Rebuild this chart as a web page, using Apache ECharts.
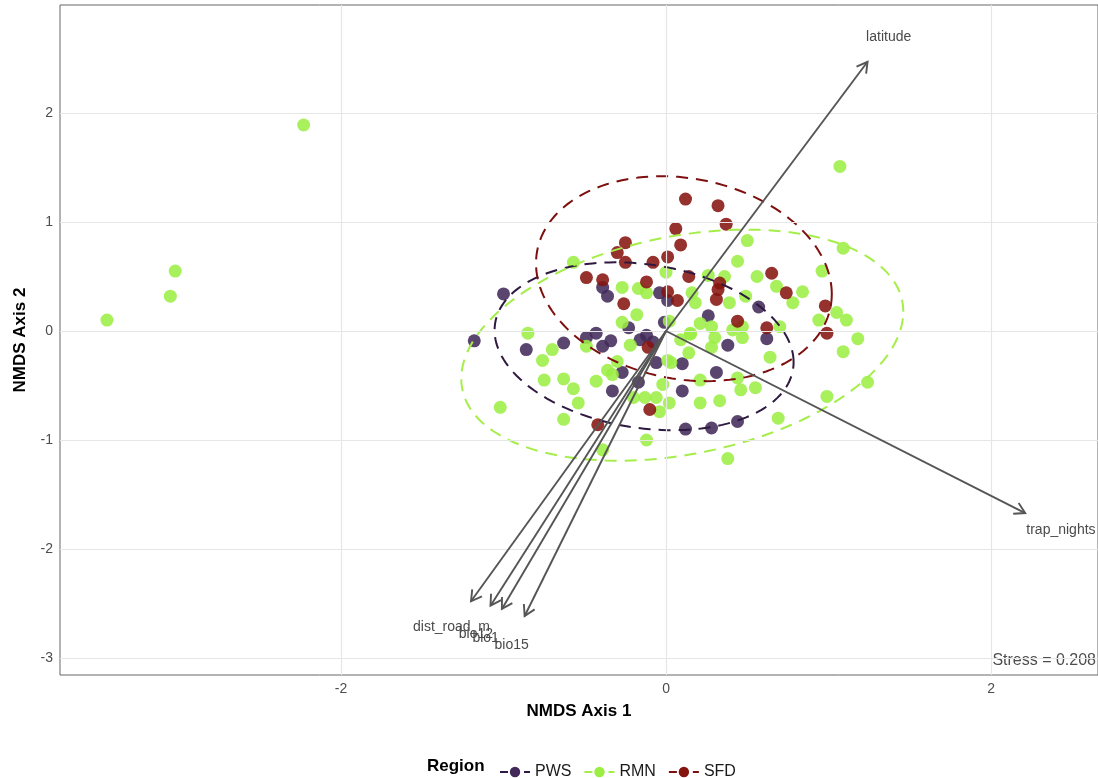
<!DOCTYPE html>
<html><head><meta charset="utf-8">
<script src="https://cdn.jsdelivr.net/npm/echarts@6/dist/echarts.min.js"></script>
<style>html,body{margin:0;padding:0;background:#fff}#c{width:1098px;height:778px}</style>
</head><body><div id="c"></div>
<script>
const FONT = '"Liberation Sans", Arial, sans-serif';
const regions = ['PWS', 'RMN', 'SFD'];

const pwsPoints = [[-1.00,0.34],[-1.18,-0.09],[-0.86,-0.17],[-0.63,-0.11],[-0.49,-0.06],[-0.43,-0.02],[-0.39,-0.14],[-0.34,-0.09],[-0.23,0.03],[-0.16,-0.08],[-0.12,-0.04],[-0.01,0.08],[-0.39,0.40],[-0.36,0.32],[-0.04,0.35],[0.01,0.28],[-0.27,-0.38],[-0.33,-0.55],[-0.17,-0.47],[-0.06,-0.29],[0.10,-0.30],[0.10,-0.55],[0.12,-0.90],[0.28,-0.89],[0.44,-0.83],[0.31,-0.38],[0.38,-0.13],[0.62,-0.07],[0.57,0.22],[0.26,0.14],[-0.08,-0.10]];

const rmnPoints = [[-2.23,1.89],[-3.02,0.55],[-3.05,0.32],[-3.44,0.10],[1.07,1.51],
[1.09,0.76],[0.96,0.55],[0.84,0.36],[1.05,0.17],[0.94,0.10],[1.11,0.10],[1.18,-0.07],[1.09,-0.19],[1.24,-0.47],[0.99,-0.60],
[0.78,0.26],[0.70,0.04],[0.68,0.41],[0.56,0.50],[0.50,0.83],[0.44,0.64],[0.49,0.32],[0.39,0.26],[0.18,0.26],[0.16,0.35],[0.26,0.51],[0.36,0.50],
[0.21,0.07],[0.28,0.04],[0.41,0.01],[0.47,0.04],[0.47,-0.06],[0.30,-0.06],[0.15,-0.02],[0.09,-0.08],[0.02,0.09],[0.28,-0.15],[0.14,-0.20],[0.64,-0.24],
[0.21,-0.45],[0.44,-0.43],[0.46,-0.54],[0.55,-0.52],[0.33,-0.64],[0.21,-0.66],[0.02,-0.66],[-0.06,-0.61],[-0.13,-0.61],[-0.20,-0.61],[-0.04,-0.74],[-0.02,-0.49],[0.01,-0.27],[0.03,-0.29],[0.15,-0.03],
[0.69,-0.80],[0.38,-1.17],[-0.12,-1.00],[-0.39,-1.09],[-0.63,-0.81],[-0.54,-0.66],[-1.02,-0.70],[-0.57,-0.53],[-0.63,-0.44],[-0.75,-0.45],[-0.43,-0.46],[-0.36,-0.36],[-0.33,-0.40],[-0.30,-0.28],[-0.76,-0.27],[-0.70,-0.17],[-0.85,-0.02],[-0.49,-0.14],[-0.22,-0.13],[-0.27,0.08],[-0.18,0.15],[-0.27,0.40],[-0.17,0.39],[-0.12,0.35],[0.00,0.54],[-0.57,0.63]];

const sfdPoints = [[0.12,1.21],[0.32,1.15],[0.37,0.98],[0.06,0.94],[0.09,0.79],[0.01,0.68],[-0.08,0.63],[-0.25,0.81],[-0.30,0.72],[-0.25,0.63],[-0.49,0.49],[-0.39,0.47],[-0.12,0.45],[-0.26,0.25],[0.14,0.50],[0.01,0.36],[0.07,0.28],[0.33,0.44],[0.32,0.38],[0.31,0.29],[0.44,0.09],[0.62,0.03],[0.65,0.53],[0.74,0.35],[0.98,0.23],[0.99,-0.02],[-0.11,-0.15],[-0.10,-0.72],[-0.42,-0.86]];

// ellipse: [centerX, centerY, halfRangeX, halfRangeY, correlation]
const pwsEllipse = [-0.135, -0.14, 0.92, 0.77, -0.19];
const rmnEllipse = [0.10, -0.13, 1.36, 1.06, 0.29];
const sfdEllipse = [0.11, 0.48, 0.91, 0.94, -0.15];

const vectorNames = ['latitude', 'trap_nights', 'dist_road_m', 'bio12', 'bio1', 'bio15'];
const vectorEnds = [[1.24,2.47],[2.21,-1.67],[-1.20,-2.48],[-1.08,-2.52],[-1.01,-2.55],[-0.87,-2.615]];
const vectorLabelPos = [[1.37,2.70],[2.43,-1.83],[-1.32,-2.72],[-1.17,-2.78],[-1.11,-2.82],[-0.95,-2.88]];

const xTicks = [-2, 0, 2];
const yTicks = [-3, -2, -1, 0, 1, 2];
const stressLabel = 'Stress = 0.208';

const pointColors = ['#42295a', '#9bee44', '#85140e'];
const ellipseColors = ['#2e1a40', '#a5ee4a', '#7d0f0f'];
const ellipses = [pwsEllipse, rmnEllipse, sfdEllipse];
const pointSets = [pwsPoints, rmnPoints, sfdPoints];

const chart = echarts.init(document.getElementById('c'), null, {renderer: 'canvas'});

function renderEllipse(params, api) {
  const p = ellipses[params.dataIndex];
  const pts = [];
  const n = 160;
  const s = Math.sqrt(1 - p[4] * p[4]);
  for (let k = 0; k <= n; k++) {
    const t = 2 * Math.PI * k / n;
    pts.push(api.coord([p[0] + p[2] * Math.cos(t), p[1] + p[3] * (p[4] * Math.cos(t) + s * Math.sin(t))]));
  }
  return {type: 'polyline', shape: {points: pts},
    style: {stroke: ellipseColors[params.dataIndex], lineWidth: 2, lineDash: [12, 8], fill: null}};
}

function renderArrow(params, api) {
  const i = params.dataIndex;
  const o = api.coord([0, 0]);
  const e = api.coord(vectorEnds[i]);
  const l = api.coord(vectorLabelPos[i]);
  const ang = Math.atan2(e[1] - o[1], e[0] - o[0]);
  const h = 12, a = Math.PI / 6;
  const h1 = [e[0] - h * Math.cos(ang - a), e[1] - h * Math.sin(ang - a)];
  const h2 = [e[0] - h * Math.cos(ang + a), e[1] - h * Math.sin(ang + a)];
  return {type: 'group', children: [
    {type: 'line', shape: {x1: o[0], y1: o[1], x2: e[0], y2: e[1]}, style: {stroke: '#555', lineWidth: 1.9}},
    {type: 'polyline', shape: {points: [h1, e, h2]}, style: {stroke: '#555', lineWidth: 1.9, fill: null}},
    {type: 'text', x: l[0], y: l[1], style: {text: vectorNames[i], fill: '#4a4a4a', font: '14px ' + FONT, align: 'center', verticalAlign: 'middle'}}
  ]};
}

const series = [];
regions.forEach((r, i) => {
  series.push({type: 'line', name: r, data: [], symbol: 'circle', symbolSize: 11,
    itemStyle: {color: pointColors[i]}, lineStyle: {color: ellipseColors[i], type: 'dashed', width: 2}});
});
series.push({type: 'line', name: 'grid', data: [], silent: true, z: 0,
  markLine: {silent: true, symbol: ['none', 'none'], animation: false, label: {show: false},
    lineStyle: {color: '#e6e6e6', width: 1.2, type: 'solid'},
    data: xTicks.map(v => ({xAxis: v})).concat(yTicks.map(v => ({yAxis: v})))}});
regions.forEach((r, i) => {
  series.push({type: 'scatter', name: r, data: pointSets[i], symbol: 'circle', symbolSize: 13, z: 3,
    itemStyle: {color: pointColors[i], opacity: 0.87}, emphasis: {disabled: true}});
});
series.push({type: 'custom', name: 'ellipses', renderItem: renderEllipse, data: ellipses, encode: {x: 0, y: 1}, z: 4, silent: true});
series.push({type: 'custom', name: 'vectors', renderItem: renderArrow,
  data: vectorEnds.map((e, i) => ({name: vectorNames[i], value: e})), encode: {x: 0, y: 1}, z: 5, silent: true, clip: false});

chart.setOption({
  animation: false,
  backgroundColor: '#fff',
  grid: {left: 60, right: 0, top: 5, bottom: 103, show: true, borderColor: '#666', borderWidth: 1},
  xAxis: {type: 'value', min: -3.729, max: 2.658,
    axisLine: {show: false},
    axisTick: {show: true, customValues: xTicks, length: 4, lineStyle: {color: '#333'}},
    axisLabel: {customValues: xTicks, color: '#4d4d4d', fontSize: 14, fontFamily: FONT, margin: 7},
    splitLine: {show: false},
    name: 'NMDS Axis 1', nameLocation: 'middle', nameGap: 28,
    nameTextStyle: {fontSize: 17, fontWeight: 'bold', color: '#000', fontFamily: FONT}},
  yAxis: {type: 'value', min: -3.156, max: 2.991,
    axisLine: {show: false},
    axisTick: {show: true, customValues: yTicks, length: 4, lineStyle: {color: '#333'}},
    axisLabel: {customValues: yTicks, color: '#4d4d4d', fontSize: 14, fontFamily: FONT, margin: 7},
    splitLine: {show: false},
    name: 'NMDS Axis 2', nameLocation: 'middle', nameGap: 31,
    nameTextStyle: {fontSize: 17, fontWeight: 'bold', color: '#000', fontFamily: FONT}},
  legend: {data: regions, left: 494, top: 759, itemWidth: 30, itemHeight: 13, itemGap: 12,
    textStyle: {fontSize: 16, color: '#1a1a1a', fontFamily: FONT}, selectedMode: false},
  graphic: [
    {type: 'text', left: 427, top: 758, style: {text: 'Region', font: 'bold 17px ' + FONT, fill: '#000'}},
    {type: 'text', right: 2, top: 653, style: {text: stressLabel, font: '16px ' + FONT, fill: '#4d4d4d'}}
  ],
  series: series
});
</script></body></html>
